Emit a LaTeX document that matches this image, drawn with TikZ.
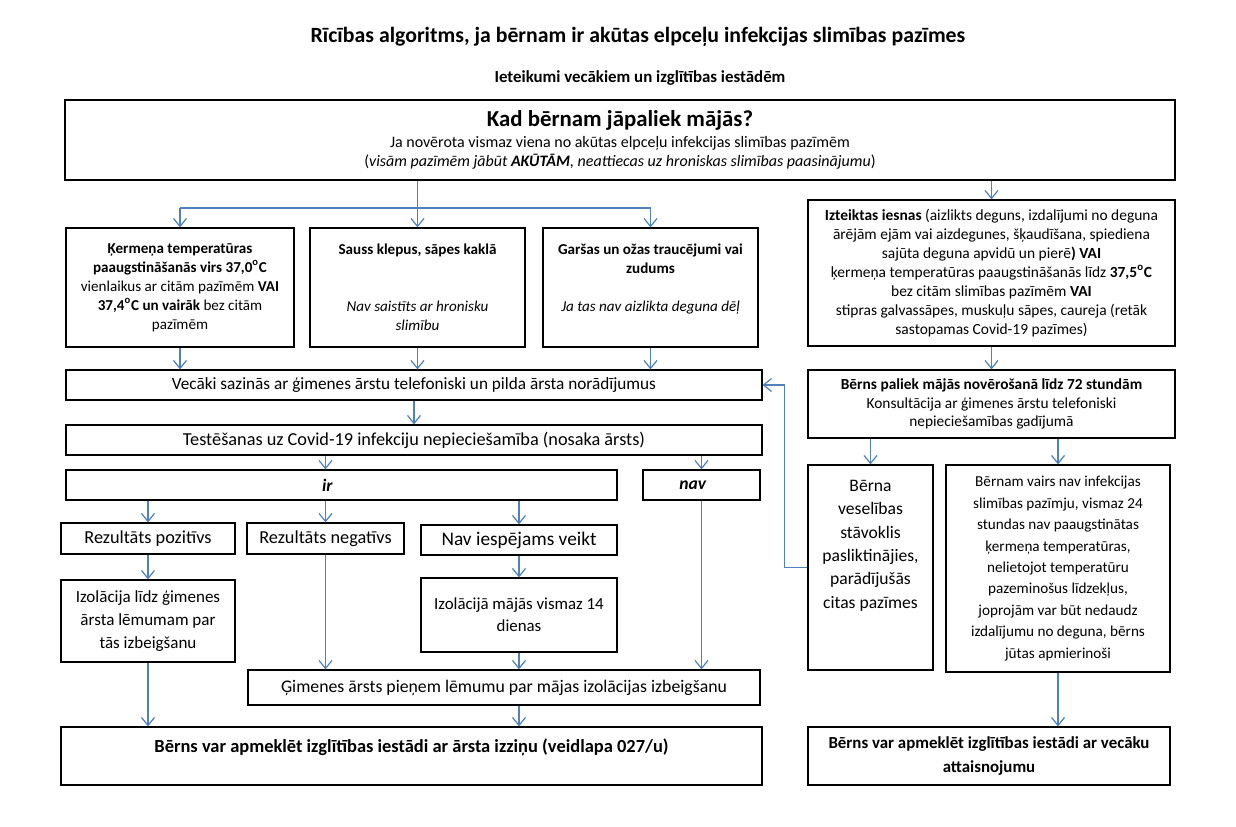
\documentclass[tikz,border=0pt]{standalone}
\usepackage{fontspec}
\setmainfont{Carlito}
\usepackage{tikz}
\usetikzlibrary{arrows.meta}
\definecolor{arrowblue}{RGB}{79,129,189}

\begin{document}
\begin{tikzpicture}[x=0.02cm, y=-0.02cm,
    box/.style={draw, line width=0.7pt, align=center, inner sep=1pt, font=\fontsize{8.6}{10.8}\selectfont},
    arr/.style={draw=arrowblue, line width=0.7pt, -{Straight Barb[length=1.6mm, width=2.6mm]}}]
    \useasboundingbox (0,0) rectangle (1236,826);
    \node[font=\fontsize{12.4}{14}\selectfont\bfseries] (title) at (638,37){Rīcības algoritms, ja bērnam ir akūtas elpceļu infekcijas slimības pazīmes};
    \node[font=\fontsize{9.6}{11}\selectfont\bfseries] (subtitle) at (640,78){Ieteikumi vecākiem un izglītības iestādēm};
    \node[box, font=\fontsize{9.1}{10.8}\selectfont, minimum width=22.2cm, minimum height=1.6cm] (top) at (620,140){{\fontsize{13}{14}\selectfont\bfseries Kad bērnam jāpaliek mājās?}\\[1pt] Ja novērota vismaz viena no akūtas elpceļu infekcijas slimības pazīmēm\\ (\textit{visām pazīmēm jābūt \textbf{AKŪTĀM}, neattiecas uz hroniskas slimības paasinājumu})};
    \node[box, minimum width=4.56cm, minimum height=2.38cm] (temp) at (180,287.5){\textbf{Ķermeņa temperatūras}\\ \textbf{paaugstināšanās virs 37,0\textsuperscript{o}C}\\ vienlaikus ar citām pazīmēm \textbf{VAI}\\ \textbf{37,4\textsuperscript{o}C un vairāk} bez citām\\ pazīmēm};
    \node[box, minimum width=4.3cm, minimum height=2.38cm] (cough) at (417.5,287.5){\textbf{Sauss klepus, sāpes kaklā}\\ \mbox{}\\ \mbox{}\\ \textit{Nav saistīts ar hronisku}\\ \textit{slimību}};
    \node[box, minimum width=4.3cm, minimum height=2.38cm] (smell) at (650.5,287.5){\textbf{Garšas un ožas traucējumi vai}\\ \textbf{zudums}\\ \mbox{}\\ \textit{Ja tas nav aizlikta deguna dēļ}\\ \mbox{}};
    \node[box, font=\fontsize{8.8}{10.8}\selectfont, minimum width=7.34cm, minimum height=2.92cm] (runny) at (991.5,273){\textbf{Izteiktas iesnas} (aizlikts deguns, izdalījumi no deguna\\ ārējām ejām vai aizdegunes, šķaudīšana, spiediena\\ sajūta deguna apvidū un pierē\textbf{) VAI}\\ ķermeņa temperatūras paaugstināšanās līdz \textbf{37,5\textsuperscript{o}C}\\ bez citām slimības pazīmēm \textbf{VAI}\\ stipras galvassāpes, muskuļu sāpes, caureja (retāk\\ sastopamas Covid-19 pazīmes)};
    \node[box, font=\fontsize{9.8}{11}\selectfont, minimum width=13.92cm, minimum height=0.6cm] (parents) at (414,385){Vecāki sazinās ar ģimenes ārstu telefoniski un pilda ārsta norādījumus};
    \node[box, font=\fontsize{8.75}{10.4}\selectfont, minimum width=7.34cm, minimum height=1.36cm] (observe) at (991.5,404){\textbf{Bērns paliek mājās novērošanā līdz 72 stundām}\\ Konsultācija ar ģimenes ārstu telefoniski\\ nepieciešamības gadījumā};
    \node[box, font=\fontsize{10.4}{11}\selectfont, minimum width=13.92cm, minimum height=0.6cm] (testing) at (414,440){Testēšanas uz Covid-19 infekciju nepieciešamība (nosaka ārsts)};
    \node[box, font=\fontsize{10}{11}\selectfont, minimum width=11.02cm, minimum height=0.6cm] (yes) at (341.5,485){\textbf{\textit{ir}}\hspace{0.56cm}};
    \node[box, font=\fontsize{10}{11}\selectfont, minimum width=2.34cm, minimum height=0.6cm] (no) at (701.5,485){\textbf{\textit{nav}}\hspace{0.34cm}};
    \node[box, font=\fontsize{10.4}{11}\selectfont, minimum width=3.48cm, minimum height=0.62cm] (pos) at (148,538.5){Rezultāts pozitīvs};
    \node[box, font=\fontsize{10.4}{11}\selectfont, minimum width=3.14cm, minimum height=0.62cm] (neg) at (325.5,538.5){Rezultāts negatīvs};
    \node[box, font=\fontsize{11}{12}\selectfont, minimum width=3.92cm, minimum height=0.6cm] (notest) at (519,540){Nav iespējams veikt};
    \node[box, font=\fontsize{9.7}{13}\selectfont, minimum width=3.48cm, minimum height=1.64cm] (isodoc) at (148,621){Izolācija līdz ģimenes\\ ārsta lēmumam par\\ tās izbeigšanu};
    \node[box, font=\fontsize{9.6}{12.5}\selectfont, minimum width=3.92cm, minimum height=1.48cm] (iso14) at (519,615){Izolācijā mājās vismaz 14\\ dienas};
    \node[box, font=\fontsize{10.1}{11}\selectfont, minimum width=10.24cm, minimum height=0.7cm] (decide) at (504,687.5){Ģimenes ārsts pieņem lēmumu par mājas izolācijas izbeigšanu};
    \node[box, font=\fontsize{10.5}{11.5}\selectfont\bfseries, minimum width=14.02cm, minimum height=1.16cm] (certdoc) at (411.5,756){Bērns var apmeklēt izglītības iestādi ar ārsta izziņu (veidlapa 027/u)\\ \mbox{}};
    \node[box, font=\fontsize{10}{13.3}\selectfont, minimum width=2.5cm, minimum height=4.1cm] (worse) at (870.5,567.5){Bērna\\ veselības\\ stāvoklis\\ pasliktinājies,\\ parādījušās\\ citas pazīmes\\ \mbox{}\\ \mbox{}};
    \node[box, font=\fontsize{8.65}{12.2}\selectfont, minimum width=4.48cm, minimum height=4.14cm] (better) at (1058,568.5){Bērnam vairs nav infekcijas\\ slimības pazīmju, vismaz 24\\ stundas nav paaugstinātas\\ ķermeņa temperatūras,\\ nelietojot temperatūru\\ pazeminošus līdzekļus,\\ joprojām var būt nedaudz\\ izdalījumu no deguna, bērns\\ jūtas apmierinoši};
    \node[box, font=\fontsize{9.6}{14}\selectfont\bfseries, minimum width=7.24cm, minimum height=1.16cm] (certpar) at (989,756){Bērns var apmeklēt izglītības iestādi ar vecāku\\ attaisnojumu};
    \coordinate (split) at (415,208);
    \draw[arr] (top.south -| cough.north) -- (cough.north);
    \draw[draw=arrowblue, line width=0.7pt] (split -| temp.north) -- (split -| smell.north);
    \draw[arr] (split -| temp.north) -- (temp.north);
    \draw[arr] (split -| smell.north) -- (smell.north);
    \draw[arr] (top.south -| runny.north) -- (runny.north);
    \draw[arr] (temp.south) -- (temp.south |- parents.north);
    \draw[arr] (cough.south) -- (cough.south |- parents.north);
    \draw[arr] (smell.south) -- (smell.south |- parents.north);
    \draw[arr] (runny.south) -- (observe.north);
    \draw[arr] (parents.south) -- (testing.north);
    \draw[arr] (testing.south -| neg.north) -- (yes.north -| neg.north);
    \draw[arr] (testing.south -| no.north) -- (no.north);
    \draw[arr] (yes.south -| pos.north) -- (pos.north);
    \draw[arr] (yes.south -| neg.north) -- (neg.north);
    \draw[arr] (yes.south -| notest.north) -- (notest.north);
    \draw[arr] (pos.south) -- (isodoc.north);
    \draw[arr] (notest.south) -- (iso14.north);
    \draw[arr] (neg.south) -- (neg.south |- decide.north);
    \draw[arr] (iso14.south) -- (iso14.south |- decide.north);
    \draw[arr] (no.south) -- (no.south |- decide.north);
    \draw[arr] (decide.south -| iso14.south) -- (certdoc.north -| iso14.south);
    \draw[arr] (isodoc.south) -- (certdoc.north -| isodoc.south);
    \draw[arr] (observe.south -| worse.north) -- (worse.north);
    \draw[arr] (observe.south -| better.north) -- (better.north);
    \draw[arr] (better.south) -- (better.south |- certpar.north);
    \draw[arr] (worse.west) -- ++(-23,0) |- (parents.east);
\end{tikzpicture}
\end{document}
